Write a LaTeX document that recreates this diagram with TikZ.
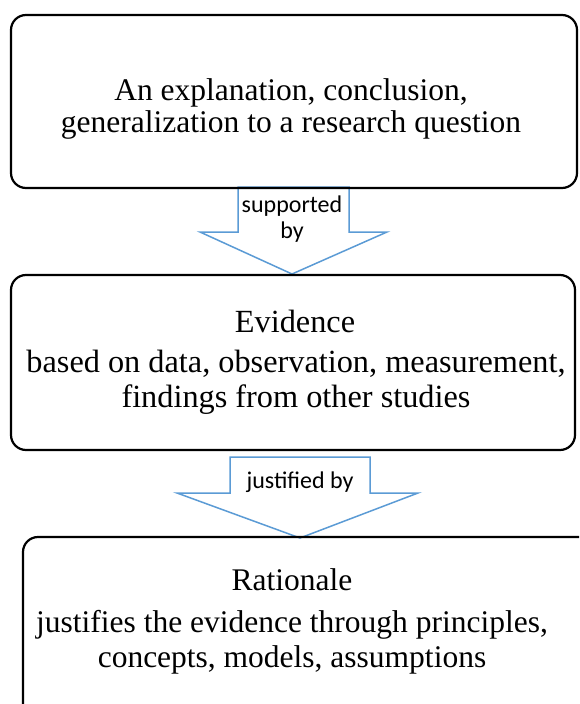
\documentclass[tikz,border=0pt]{standalone}
\usepackage{fontspec}
\setmainfont{Liberation Serif}
\newfontfamily\serfont{Liberation Serif}
\newfontfamily\labfont{Carlito}
\begin{document}
\begin{tikzpicture}[x=1pt,y=-1pt,
  box/.style={draw=black,line width=2.2pt,rounded corners=15pt},
  blockarrow/.style={draw={rgb,255:red,91;green,155;blue,213},line width=1.5pt,fill=white,line join=miter},
  bigtext/.style={font=\serfont\fontsize{31.5}{34}\selectfont,anchor=base,inner sep=0pt},
  midtext/.style={font=\serfont\fontsize{32.3}{34}\selectfont,anchor=base,inner sep=0pt},
  labtext/.style={font=\labfont\fontsize{24}{26}\selectfont,anchor=base,inner sep=0pt}]
\useasboundingbox (0,0) rectangle (579,704);
\clip (0,0) rectangle (579,704);
% block arrows (drawn first, boxes on top)
\coordinate (a1) at (293.5,187);
\draw[blockarrow] (238,187) -- (349,187) -- (349,232) -- (387,232) -- (292,274) -- (200,232) -- (238,232) -- cycle;
\coordinate (a2) at (300,457);
\draw[blockarrow] (230,457) -- (370,457) -- (370,493) -- (418,493) -- (300,538) -- (177,493) -- (230,493) -- cycle;
% boxes
\draw[box] (11,15) rectangle (577,188);
\draw[box] (11,275) rectangle (575,450);
\draw[box] (23,537) rectangle (600,730);
% texts
\node[bigtext] (t1a) at (291,100) {An explanation, conclusion,};
\node[bigtext] (t1b) at (291,132) {generalization to a research question};
\node[midtext] (t2a) at (295,332) {Evidence};
\node[midtext] (t2b) at (296,372) {based on data, observation, measurement,};
\node[midtext] (t2c) at (296,407) {findings from other studies};
\node[bigtext] (t3a) at (292,590) {Rationale};
\node[bigtext] (t3b) at (292,632) {justifies the evidence through principles,};
\node[bigtext] (t3c) at (292,667) {concepts, models, assumptions};
\node[labtext] (l1a) at (292,212) {supported};
\node[labtext] (l1b) at (292,238) {by};
\node[labtext] (l2) at (300,488) {justified by};
\end{tikzpicture}
\end{document}
